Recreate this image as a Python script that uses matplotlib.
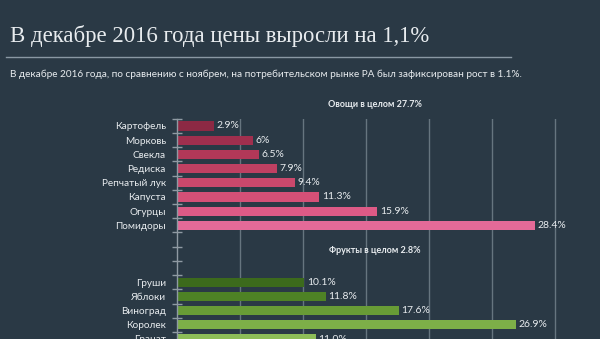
import matplotlib
matplotlib.use("Agg")
import matplotlib.pyplot as plt
from matplotlib.lines import Line2D

# ---- data ----
veg_labels = ["Картофель", "Морковь", "Свекла", "Редиска", "Репчатый лук", "Капуста", "Огурцы", "Помидоры"]
veg_values = [2.9, 6.0, 6.5, 7.9, 9.4, 11.3, 15.9, 28.4]
veg_value_text = ["2.9%", "6%", "6.5%", "7.9%", "9.4%", "11.3%", "15.9%", "28.4%"]
fruit_labels = ["Груши", "Яблоки", "Виноград", "Королек", "Гранат"]
fruit_values = [10.1, 11.8, 17.6, 26.9, 11.0]
fruit_value_text = ["10.1%", "11.8%", "17.6%", "26.9%", "11.0%"]
veg_header = "Овощи в целом 27.7%"
fruit_header = "Фрукты в целом 2.8%"
title = "В декабре 2016 года цены выросли на 1,1%"
subtitle = "В декабре 2016 года, по сравнению с ноябрем, на потребительском рынке РА был зафиксирован рост в 1.1%."
grid_values = [5, 10, 15, 20, 25, 30]

veg_colors = ["#8c2944", "#a02f4e", "#b23858", "#bf4062", "#ca486c", "#d45077", "#dd5a86", "#e46a98"]
fruit_colors = ["#3c6a1c", "#4e8225", "#689c36", "#7daf48", "#8dbd58"]

BG = "#2a3945"
TXT = "#e8ecef"
SANS = ["Lato", "DejaVu Sans"]

W, H = 600, 339
fig = plt.figure(figsize=(W / 100, H / 100), dpi=100, facecolor=BG)

# layout in pixels
x0_px = 177.0
px_per_unit = 12.6
row0_px = 126.0
row_px = 14.2
n_rows_view = 17

left = x0_px / W
xmax = (W - x0_px) / px_per_unit
top_px = row0_px - 0.5 * row_px
bottom_px = top_px + n_rows_view * row_px
ax = fig.add_axes([left, 1 - bottom_px / H, 1 - left, (bottom_px - top_px) / H])
ax.set_facecolor(BG)
ax.set_xlim(0, xmax)
ax.set_ylim(n_rows_view - 0.5, -0.5)

veg_pos = list(range(len(veg_labels)))
fruit_start = len(veg_labels) + 3
fruit_pos = [fruit_start + i for i in range(len(fruit_labels))]

for gv in grid_values:
    ax.axvline(gv, color="#66757f", lw=1.0, zorder=0)

ax.barh(veg_pos, veg_values, height=0.64, color=veg_colors, zorder=2)
ax.barh(fruit_pos, fruit_values, height=0.64, color=fruit_colors, zorder=2)

for p, v, t in zip(veg_pos, veg_values, veg_value_text):
    ax.text(v + 0.2, p, t, color=TXT, fontsize=7.5, va="center", ha="left", family=SANS)
for p, v, t in zip(fruit_pos, fruit_values, fruit_value_text):
    ax.text(v + 0.2, p, t, color=TXT, fontsize=7.5, va="center", ha="left", family=SANS)

ax.text(15.7, -1.5, veg_header, color=TXT, fontsize=6.5, fontweight="bold",
        ha="center", va="center", family=SANS, clip_on=False)
ax.text(15.7, fruit_start - 2.2, fruit_header, color=TXT, fontsize=6.5, fontweight="bold",
        ha="center", va="center", family=SANS)

all_pos = veg_pos + fruit_pos
all_labels = veg_labels + fruit_labels
ax.set_yticks(all_pos)
ax.set_yticklabels(all_labels, family=SANS, fontsize=7.2, color=TXT)
ax.tick_params(axis="y", which="major", length=0, pad=8)
ax.set_yticks([i + 0.5 for i in range(-1, n_rows_view)], minor=True)
ax.tick_params(axis="y", which="minor", length=7, width=1, direction="inout", color="#8f9aa3")
ax.set_xticks([])

for s in ["top", "right", "bottom"]:
    ax.spines[s].set_visible(False)
ax.spines["left"].set_color("#8f9aa3")
ax.spines["left"].set_linewidth(1.0)

# title area
fig.text(10 / W, 1 - 36 / H, title, family=["Liberation Serif", "DejaVu Serif"], fontsize=16.4,
         color=TXT, ha="left", va="center")
fig.add_artist(Line2D([6 / W, 511 / W], [1 - 57 / H, 1 - 57 / H], color="#8a98a3", lw=1.0))
fig.text(10 / W, 1 - 74 / H, subtitle, family=SANS, fontsize=7.17, color=TXT, ha="left", va="center")

fig.savefig("out.png", dpi=100, facecolor=BG)
